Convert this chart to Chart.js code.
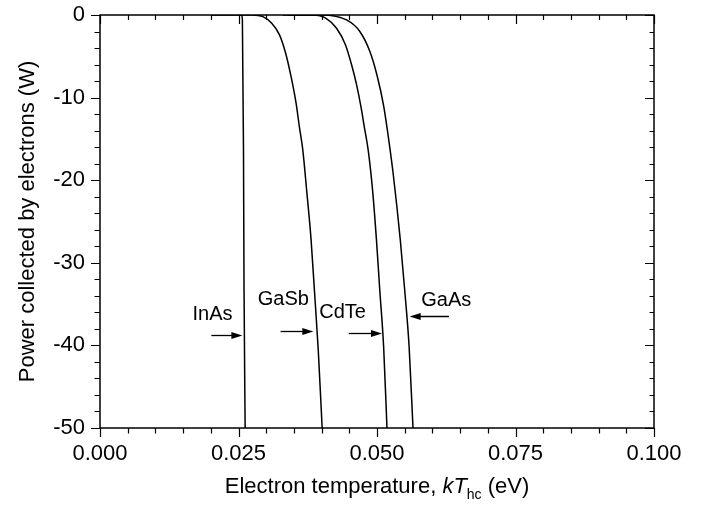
<!DOCTYPE html>
<html>
<head>
<meta charset="utf-8">
<script src="https://cdn.jsdelivr.net/npm/chart.js@4/dist/chart.umd.min.js"></script>
<style>
  body { margin: 0; background: #fff; }
  #wrap { width: 708px; height: 505px; position: relative; }
</style>
</head>
<body>
<div id="wrap"><canvas id="powerChart"></canvas></div>
<script>
// Power collected by electrons vs electron temperature

const xMajor = [0, 0.025, 0.05, 0.075, 0.1];
const yMajor = [0, -10, -20, -30, -40, -50];

const inasX = [0.0200, 0.0255, 0.0257, 0.0259, 0.0260, 0.0262];
const inasY = [0, 0, -0.5, -16.3, -33.3, -50];

const gasbX = [0.0250, 0.0274, 0.0294, 0.0310, 0.0324, 0.0335, 0.0345, 0.0354, 0.0360, 0.0366, 0.0373, 0.0381, 0.0387, 0.0394, 0.0401];
const gasbY = [0, 0, -0.2, -1.0, -2.4, -4.6, -7.5, -10.7, -13.6, -16.3, -21.2, -27.2, -33.3, -40.6, -50];

const cdteX = [0.0330, 0.0384, 0.0408, 0.0427, 0.0443, 0.0454, 0.0463, 0.0471, 0.0477, 0.0484, 0.0492, 0.0499, 0.0505, 0.0512, 0.0518];
const cdteY = [0, 0, -0.4, -1.6, -3.6, -6.0, -8.4, -11.1, -13.5, -16.3, -21.2, -27.2, -33.3, -40.2, -50];

const gaasX = [0.0340, 0.0400, 0.0445, 0.0469, 0.0487, 0.0500, 0.0512, 0.0522, 0.0529, 0.0542, 0.0550, 0.0558, 0.0565];
const gaasY = [0, 0, -0.6, -2.0, -4.4, -7.3, -11.0, -15.5, -19.1, -27.2, -33.3, -40.2, -50];

// labels with arrows (data coords)
const notes = [
  { text: 'InAs', tx: 0.0203, ty: -36.3, from: 0.0201, to: 0.0257, ay: -38.8 },
  { text: 'GaSb', tx: 0.0331, ty: -34.5, from: 0.0326, to: 0.0385, ay: -38.2 },
  { text: 'CdTe', tx: 0.0438, ty: -36.0, from: 0.0449, to: 0.0509, ay: -38.5 },
  { text: 'GaAs', tx: 0.0625, ty: -34.6, from: 0.0630, to: 0.0559, ay: -36.5 }
];

const FONT = '"Liberation Sans", Arial, Helvetica, sans-serif';

function pts(xs, ys) {
  return xs.map((x, i) => ({ x: x, y: ys[i] }));
}

function line(label, xs, ys) {
  return {
    label: label,
    data: pts(xs, ys),
    borderColor: '#000',
    borderWidth: 1.5,
    pointRadius: 0,
    fill: false,
    cubicInterpolationMode: 'monotone'
  };
}

const isMajor = (v, arr) => arr.some(m => Math.abs(m - v) < 1e-9);

// frame, ticks, axis titles, arrows
const decor = {
  id: 'decor',
  afterDraw(chart) {
    const ctx = chart.ctx;
    const a = chart.chartArea;
    const sx = chart.scales.x, sy = chart.scales.y;
    ctx.save();
    ctx.strokeStyle = '#000';
    ctx.lineWidth = 1.5;
    ctx.strokeRect(a.left, a.top, a.right - a.left, a.bottom - a.top);

    ctx.lineWidth = 1.2;
    ctx.beginPath();
    for (let i = 0; i <= 20; i++) {
      const v = i * 0.005;
      const p = Math.round(sx.getPixelForValue(v)) + 0.5;
      const maj = isMajor(v, xMajor);
      ctx.moveTo(p, a.bottom); ctx.lineTo(p, a.bottom + (maj ? 9 : 5.5));
      ctx.moveTo(p, a.top); ctx.lineTo(p, a.top + (maj ? 9 : 5));
    }
    for (let i = 0; i <= 25; i++) {
      const v = -2 * i;
      const p = Math.round(sy.getPixelForValue(v)) + 0.5;
      const maj = isMajor(v, yMajor);
      ctx.moveTo(a.left, p); ctx.lineTo(a.left - (maj ? 9 : 5.5), p);
      ctx.moveTo(a.right, p); ctx.lineTo(a.right - (maj ? 9 : 4.5), p);
    }
    ctx.stroke();

    // annotations
    ctx.fillStyle = '#000';
    ctx.font = '20px ' + FONT;
    ctx.textAlign = 'center';
    ctx.textBaseline = 'middle';
    notes.forEach(n => {
      ctx.fillText(n.text, sx.getPixelForValue(n.tx), sy.getPixelForValue(n.ty));
      const x0 = sx.getPixelForValue(n.from), x1 = sx.getPixelForValue(n.to);
      const yy = Math.round(sy.getPixelForValue(n.ay)) + 0.5;
      const dir = Math.sign(x1 - x0);
      ctx.lineWidth = 1.3;
      ctx.beginPath();
      ctx.moveTo(x0, yy); ctx.lineTo(x1 - dir * 8, yy);
      ctx.stroke();
      ctx.beginPath();
      ctx.moveTo(x1, yy);
      ctx.lineTo(x1 - dir * 11, yy - 3.5);
      ctx.lineTo(x1 - dir * 11, yy + 3.5);
      ctx.closePath();
      ctx.fill();
    });

    // y title
    ctx.save();
    ctx.translate(34, (a.top + a.bottom) / 2);
    ctx.rotate(-Math.PI / 2);
    ctx.font = '22px ' + FONT;
    ctx.textBaseline = 'alphabetic';
    ctx.fillText('Power collected by electrons (W)', 0, 0);
    ctx.restore();

    // x title with italic kT and subscript hc
    const parts = [
      { t: 'Electron temperature, ', f: '22px ' + FONT, dy: 0 },
      { t: 'kT', f: 'italic 22px ' + FONT, dy: 0 },
      { t: 'hc', f: '14px ' + FONT, dy: 6 },
      { t: ' (eV)', f: '22px ' + FONT, dy: 0 }
    ];
    let total = 0;
    parts.forEach(p => { ctx.font = p.f; p.w = ctx.measureText(p.t).width; total += p.w; });
    let cx = (a.left + a.right) / 2 - total / 2;
    ctx.textAlign = 'left';
    ctx.textBaseline = 'alphabetic';
    parts.forEach(p => {
      ctx.font = p.f;
      ctx.fillText(p.t, cx, 493 + p.dy);
      cx += p.w;
    });
    ctx.restore();
  }
};

const config = {
  type: 'line',
  data: {
    datasets: [
      line('InAs', inasX, inasY),
      line('GaSb', gasbX, gasbY),
      line('CdTe', cdteX, cdteY),
      line('GaAs', gaasX, gaasY)
    ]
  },
  options: {
    responsive: true,
    maintainAspectRatio: false,
    animation: false,
    layout: { padding: { left: 0, top: 15, right: 54, bottom: 0 } },
    plugins: {
      legend: { display: false },
      tooltip: { enabled: false }
    },
    scales: {
      x: {
        type: 'linear',
        min: 0,
        max: 0.1,
        grid: { display: false, drawTicks: false },
        border: { display: false },
        ticks: {
          stepSize: 0.005,
          autoSkip: false,
          maxRotation: 0,
          padding: 13,
          color: '#000',
          font: { family: FONT, size: 22 },
          callback: v => isMajor(v, xMajor) ? v.toFixed(3) : ''
        },
        afterFit: s => { s.height = 77; s.paddingLeft = 0; s.paddingRight = 0; }
      },
      y: {
        type: 'linear',
        min: -50,
        max: 0,
        grid: { display: false, drawTicks: false },
        border: { display: false },
        ticks: {
          stepSize: 2,
          autoSkip: false,
          padding: 15,
          color: '#000',
          font: { family: FONT, size: 22 },
          callback: v => isMajor(v, yMajor) ? String(v) : ''
        },
        afterFit: s => { s.width = 100; s.paddingTop = 0; s.paddingBottom = 0; }
      }
    }
  },
  plugins: [decor]
};

const powerChart = new Chart(document.getElementById('powerChart'), config);
</script>
</body>
</html>
